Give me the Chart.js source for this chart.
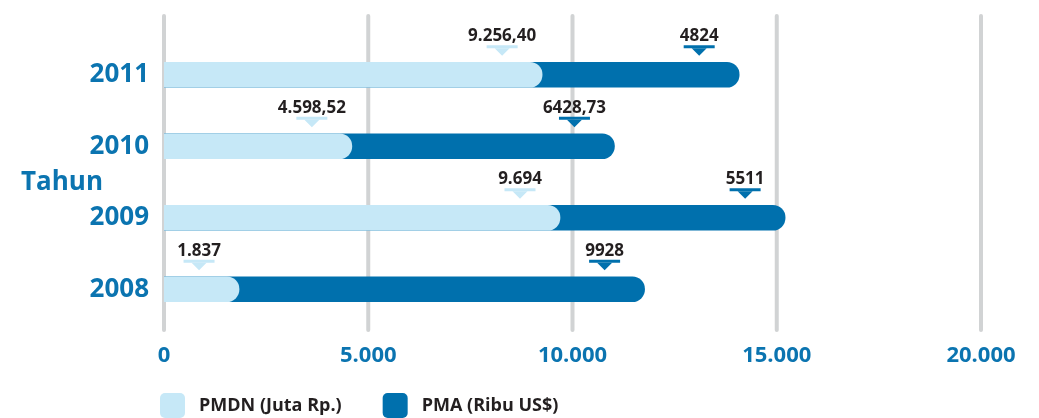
<!DOCTYPE html>
<html>
<head>
<meta charset="utf-8">
<script src="https://cdn.jsdelivr.net/npm/chart.js@4.4.0/dist/chart.umd.min.js"></script>
<style>
  html, body { margin: 0; padding: 0; background: #fff; }
  #wrap { width: 1039px; height: 418px; }
</style>
</head>
<body>
<div id="wrap"><canvas id="grafik" width="1039" height="418"></canvas></div>
<script>
// Data investasi per tahun
const tahun = ['2011', '2010', '2009', '2008'];
const pmdn = [9256.40, 4598.52, 9694, 1837];
const pma = [4824, 6428.73, 5511, 9928];
const pmdnLabels = ['9.256,40', '4.598,52', '9.694', '1.837'];
const pmaLabels = ['4824', '6428,73', '5511', '9928'];
const xTicks = ['0', '5.000', '10.000', '15.000', '20.000'];
const seriesNames = ['PMDN (Juta Rp.)', 'PMA (Ribu US$)'];

const BIRU_MUDA = '#c6e8f7';
const BIRU = '#0070ad';
const BIRU_TEKS = '#0b74b0';
const ABU = '#d1d3d4';
const HITAM = '#231f20';
const FONT = "'Open Sans', sans-serif";

// bar PMA digambar dari 0 sampai total, di belakang bar PMDN
const total = pmdn.map((v, i) => v + pma[i]);

// garis grid abu-abu tebal di belakang bar
const gridPlugin = {
  id: 'gridBelakang',
  beforeDatasetsDraw(chart) {
    const { ctx, chartArea, scales: { x } } = chart;
    ctx.save();
    ctx.strokeStyle = ABU;
    ctx.lineWidth = 4;
    ctx.lineCap = 'round';
    x.ticks.forEach(t => {
      const px = x.getPixelForValue(t.value);
      ctx.beginPath();
      ctx.moveTo(px, chartArea.top - 23);
      ctx.lineTo(px, chartArea.bottom + 5);
      ctx.stroke();
    });
    ctx.restore();
  }
};

// label nilai + penanda segitiga di atas bar
const labelPlugin = {
  id: 'labelNilai',
  afterDatasetsDraw(chart) {
    const { ctx } = chart;
    const sets = [
      { meta: chart.getDatasetMeta(0), labels: pmdnLabels, warna: BIRU_MUDA },
      { meta: chart.getDatasetMeta(1), labels: pmaLabels, warna: BIRU }
    ];
    ctx.save();
    sets.forEach(s => {
      s.meta.data.forEach((bar, i) => {
        const cx = bar.x - 40;
        const top = bar.y - bar.height / 2;
        ctx.fillStyle = s.warna;
        ctx.fillRect(cx - 15.5, top - 17, 31, 3);
        ctx.beginPath();
        ctx.moveTo(cx - 7.5, top - 14);
        ctx.lineTo(cx + 7.5, top - 14);
        ctx.lineTo(cx, top - 6.5);
        ctx.closePath();
        ctx.fill();
        ctx.fillStyle = HITAM;
        ctx.font = 'bold 17px ' + FONT;
        ctx.textAlign = 'center';
        ctx.textBaseline = 'alphabetic';
        ctx.fillText(s.labels[i], cx, top - 21);
      });
    });
    ctx.restore();
  }
};

// tulisan "Tahun" dan legenda di bawah
const tambahanPlugin = {
  id: 'tambahan',
  afterDraw(chart) {
    const { ctx, chartArea, scales: { y } } = chart;
    ctx.save();
    const tengah = (y.getPixelForValue(1) + y.getPixelForValue(2)) / 2;
    ctx.fillStyle = BIRU_TEKS;
    ctx.font = 'bold 26px ' + FONT;
    ctx.textAlign = 'left';
    ctx.textBaseline = 'alphabetic';
    ctx.fillText('Tahun', 21, tengah + 8);

    let lx = chartArea.left - 4;
    const ly = 393;
    ctx.font = 'bold 18px ' + FONT;
    ctx.textBaseline = 'middle';
    chart.data.datasets.forEach(ds => {
      ctx.fillStyle = ds.backgroundColor;
      ctx.beginPath();
      ctx.roundRect(lx, ly, 25, 25, 5);
      ctx.fill();
      ctx.fillStyle = HITAM;
      ctx.fillText(ds.label, lx + 39, ly + 13);
      lx = lx + 39 + ctx.measureText(ds.label).width + 41;
    });
    ctx.restore();
  }
};

const ctx = document.getElementById('grafik').getContext('2d');
const grafik = new Chart(ctx, {
  type: 'bar',
  data: {
    labels: tahun,
    datasets: [
      {
        label: seriesNames[0],
        data: pmdn,
        backgroundColor: BIRU_MUDA,
        borderRadius: 13,
        borderSkipped: 'start',
        barThickness: 25,
        grouped: false
      },
      {
        label: seriesNames[1],
        data: total,
        backgroundColor: BIRU,
        borderRadius: 13,
        borderSkipped: 'start',
        barThickness: 25,
        grouped: false
      }
    ]
  },
  options: {
    indexAxis: 'y',
    responsive: false,
    animation: false,
    layout: { padding: { top: 39, right: 58, bottom: 33, left: 0 } },
    plugins: {
      legend: { display: false },
      tooltip: { enabled: false }
    },
    scales: {
      x: {
        min: 0,
        max: 20000,
        ticks: {
          stepSize: 5000,
          maxRotation: 0,
          padding: 18,
          color: BIRU_TEKS,
          font: { family: FONT, size: 22, weight: 'bold' },
          callback: (v, i) => xTicks[i]
        },
        grid: { display: false, drawTicks: false },
        border: { display: false },
        afterFit: s => { s.height = 60; }
      },
      y: {
        ticks: {
          padding: 15,
          color: BIRU_TEKS,
          font: { family: FONT, size: 26, weight: 'bold' }
        },
        grid: { display: false, drawTicks: false },
        border: { display: false },
        afterFit: s => { s.width = 164; }
      }
    }
  },
  plugins: [gridPlugin, labelPlugin, tambahanPlugin]
});
</script>
</body>
</html>
